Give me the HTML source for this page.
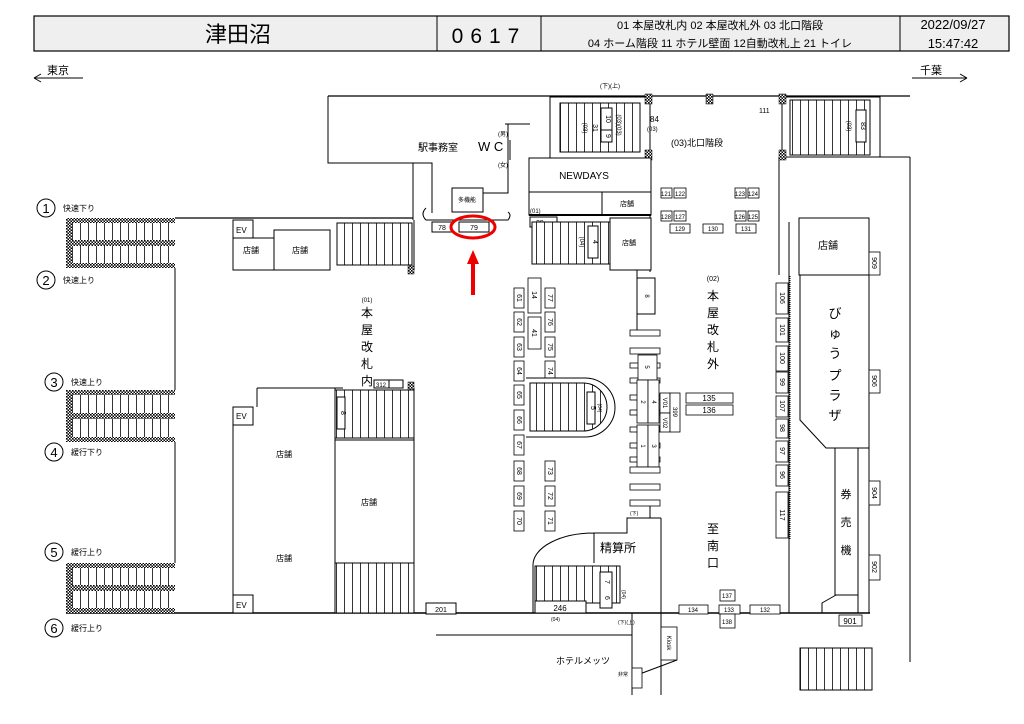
<!DOCTYPE html>
<html><head><meta charset="utf-8"><style>
html,body{margin:0;padding:0;background:#fff;}
svg{display:block;}
text{font-family:"Liberation Sans","Noto Sans CJK JP",sans-serif;fill:#000;}
</style></head><body>
<svg width="1024" height="724" viewBox="0 0 1024 724" xmlns="http://www.w3.org/2000/svg">
<defs>
<pattern id="st" width="8" height="10" patternUnits="userSpaceOnUse"><rect width="8" height="10" fill="#fff"/><line x1="0.5" y1="0" x2="0.5" y2="10" stroke="#000" stroke-width="0.8"/></pattern>
<pattern id="sth" width="10" height="8" patternUnits="userSpaceOnUse"><rect width="10" height="8" fill="#fff"/><line x1="0" y1="0.5" x2="10" y2="0.5" stroke="#000" stroke-width="0.8"/></pattern>
<pattern id="hx" width="3" height="3" patternUnits="userSpaceOnUse"><rect width="3" height="3" fill="#fff"/><rect width="1.6" height="1.6" fill="#000"/><rect x="1.5" y="1.5" width="1.5" height="1.5" fill="#000"/></pattern>
</defs>
<!-- header -->
<rect x="34" y="16" width="975" height="35" fill="#efefef" stroke="#000" stroke-width="1.2"/>
<line x1="437" y1="16" x2="437" y2="51" stroke="#000"/>
<line x1="541" y1="16" x2="541" y2="51" stroke="#000"/>
<line x1="900" y1="16" x2="900" y2="51" stroke="#000"/>
<text x="238" y="42" font-size="22" text-anchor="middle">津田沼</text>
<text x="489" y="43" font-size="21" text-anchor="middle" letter-spacing="7">0617</text>
<text x="720" y="29" font-size="11" text-anchor="middle">01 本屋改札内  02 本屋改札外  03 北口階段</text>
<text x="720" y="47" font-size="11" text-anchor="middle">04 ホーム階段  11 ホテル壁面  12自動改札上  21 トイレ</text>
<text x="953" y="29" font-size="13" text-anchor="middle">2022/09/27</text>
<text x="953" y="48" font-size="13" text-anchor="middle">15:47:42</text>
<!-- direction -->
<text x="47" y="74" font-size="11">東京</text>
<path d="M34,78 H83 M34,78 l7,-4 M34,78 l7,4" stroke="#000" fill="none"/>
<text x="920" y="74" font-size="11">千葉</text>
<path d="M912,78 H967 M967,78 l-7,-4 M967,78 l-7,4" stroke="#000" fill="none"/>

<g fill="none" stroke="#000" stroke-width="1">
<!-- walls -->
<path d="M328,96 H910" stroke-width="1.3"/>
<path d="M328,96 V163 H432 V213"/>
<path d="M413,163 V220"/>
<path d="M910,157 V662"/>
<path d="M880,157 H910"/>
<path d="M175,218 H413" stroke-width="1.3"/>
<path d="M175,268 V390 M175,442 V563"/>
<path d="M66,613 H870" stroke-width="1.6"/>
<path d="M505,124 H530 M508,124 V193 H483 M510,140 V160"/>
<path d="M426,208 q-6,6 0,12 H508 q4,-5 0,-8"/>
<path d="M650,96 V272"/>
<path d="M779,157 V275 M789,222 V613"/>
<path d="M869,222 V613"/>
<path d="M637,265 V330 M650,506 V518"/>
<path d="M257,388 H343 M257,388 V407"/>
<path d="M233,407 V613 M335,388 V613 M414,388 V613 M414,220 V270"/>
<path d="M661,518 V695 M661,518 H627 V533 H594 V563 M594,533 A61,32 0 0 0 533,565 V613"/>
<path d="M632,613 V695 M436,635 H632"/>
<path d="M677,660 L637,675"/>
<path d="M822,613 V603 L836,595 M858,595 V613"/>
</g>

<!-- top middle stair -->
<rect x="550" y="97" width="100" height="61" fill="#fff" stroke="#000"/>
<rect x="560" y="103" width="80" height="49" fill="url(#st)" stroke="#000"/>
<rect x="601" y="108" width="11" height="22" fill="#fff" stroke="#000"/><text transform="translate(606,119) rotate(90)" font-size="7" text-anchor="middle">10</text>
<rect x="601" y="130" width="11" height="12" fill="#fff" stroke="#000"/><text transform="translate(606,136) rotate(90)" font-size="7" text-anchor="middle">9</text>
<text transform="translate(593,128) rotate(90)" font-size="7" text-anchor="middle">31</text>
<text transform="translate(583,128) rotate(90)" font-size="6" text-anchor="middle">(03)</text>
<text transform="translate(617,125) rotate(90)" font-size="6" text-anchor="middle">(03)(03)</text>
<text x="650" y="122" font-size="8">84</text><text x="647" y="131" font-size="6">(03)</text>
<text x="600" y="88" font-size="6">(下)(上)</text>
<!-- top right stair -->
<rect x="782" y="97" width="98" height="60" fill="#fff" stroke="#000"/>
<rect x="790" y="100" width="80" height="55" fill="url(#st)" stroke="#000"/>
<rect x="856" y="110" width="10" height="32" fill="#fff" stroke="#000"/><text transform="translate(861,126) rotate(90)" font-size="7" text-anchor="middle">83</text>
<text transform="translate(847,126) rotate(90)" font-size="6" text-anchor="middle">(03)</text>
<text x="759" y="113" font-size="7">111</text>
<g fill="url(#hx)" stroke="#000" stroke-width="0.5">
<rect x="645" y="94" width="7" height="10"/><rect x="706" y="94" width="7" height="10"/><rect x="779" y="94" width="7" height="10"/>
<rect x="645" y="150" width="7" height="10"/><rect x="779" y="150" width="7" height="10"/>
<rect x="408" y="266" width="6" height="8"/><rect x="408" y="382" width="6" height="8"/>
</g>
<text x="671" y="146" font-size="9">(03)北口階段</text>

<!-- office -->
<text x="418" y="151" font-size="10">駅事務室</text>
<text x="478" y="151" font-size="13">W C</text>
<text x="498" y="136" font-size="6">(男)</text><text x="498" y="167" font-size="6">(女)</text>
<rect x="452" y="188" width="31" height="24" fill="#fff" stroke="#000"/><text x="467" y="202" font-size="6" text-anchor="middle">多機能</text>
<rect x="432" y="222" width="20" height="10" fill="#fff" stroke="#000"/><text x="442" y="230" font-size="7" text-anchor="middle">78</text>
<rect x="459" y="222" width="30" height="10" fill="#fff" stroke="#000"/><text x="474" y="230" font-size="7" text-anchor="middle">79</text>
<ellipse cx="473" cy="227" rx="22" ry="11" fill="none" stroke="#e00" stroke-width="3"/>
<path d="M473,295 V262" stroke="#e00" stroke-width="4"/><path d="M467,264 L473,250 L479,264 Z" fill="#e00"/>

<!-- NEWDAYS -->
<rect x="529" y="158" width="122" height="34" fill="#fff" stroke="#000"/>
<text x="584" y="179" font-size="10" text-anchor="middle">NEWDAYS</text>
<rect x="529" y="192" width="122" height="23" fill="#fff" stroke="#000"/>
<line x1="602" y1="192" x2="602" y2="215" stroke="#000"/>
<text x="620" y="206" font-size="7">店舗</text>
<line x1="529" y1="215" x2="651" y2="215" stroke="#000" stroke-width="2"/>
<text x="530" y="213" font-size="6">(01)</text>
<rect x="530" y="217" width="27" height="10" fill="#fff" stroke="#000"/><text x="536" y="225" font-size="7">29</text>
<rect x="532" y="222" width="78" height="42" fill="url(#st)" stroke="#000"/>
<rect x="588" y="226" width="10" height="32" fill="#fff" stroke="#000"/><text transform="translate(593,242) rotate(90)" font-size="7" text-anchor="middle">4</text>
<text transform="translate(580,242) rotate(90)" font-size="6" text-anchor="middle">(04)</text>
<rect x="610" y="218" width="41" height="52" fill="#fff" stroke="#000"/><text x="622" y="245" font-size="7">店舗</text>

<!-- 12x boxes -->
<g fill="#fff" stroke="#000" stroke-width="0.8">
<rect x="661" y="188" width="11" height="10"/><rect x="674" y="188" width="12" height="10"/>
<rect x="735" y="188" width="11" height="10"/><rect x="748" y="188" width="11" height="10"/>
<rect x="661" y="211" width="11" height="10"/><rect x="674" y="211" width="12" height="10"/>
<rect x="735" y="211" width="11" height="10"/><rect x="748" y="211" width="11" height="10"/>
<rect x="670" y="224" width="20" height="9"/><rect x="703" y="224" width="20" height="9"/><rect x="736" y="224" width="20" height="9"/>
</g>
<g font-size="6" text-anchor="middle">
<text x="666" y="196">121</text><text x="680" y="196">122</text><text x="740" y="196">123</text><text x="753" y="196">124</text>
<text x="666" y="219">128</text><text x="680" y="219">127</text><text x="740" y="219">126</text><text x="753" y="219">125</text>
<text x="680" y="231">129</text><text x="713" y="231">130</text><text x="746" y="231">131</text>
</g>

<!-- left platforms -->
<g>
<rect x="66" y="218" width="109" height="50" fill="url(#st)"/>
<rect x="66" y="218" width="109" height="5" fill="url(#hx)"/><rect x="66" y="240" width="109" height="6" fill="url(#hx)"/><rect x="66" y="263" width="109" height="5" fill="url(#hx)"/><rect x="66" y="218" width="6" height="50" fill="url(#hx)"/>
<rect x="66" y="390" width="109" height="52" fill="url(#st)"/>
<rect x="66" y="390" width="109" height="5" fill="url(#hx)"/><rect x="66" y="413" width="109" height="6" fill="url(#hx)"/><rect x="66" y="437" width="109" height="5" fill="url(#hx)"/><rect x="66" y="390" width="6" height="52" fill="url(#hx)"/>
<rect x="66" y="563" width="109" height="50" fill="url(#st)"/>
<rect x="66" y="563" width="109" height="5" fill="url(#hx)"/><rect x="66" y="585" width="109" height="6" fill="url(#hx)"/><rect x="66" y="608" width="109" height="5" fill="url(#hx)"/><rect x="66" y="563" width="6" height="50" fill="url(#hx)"/>
</g>
<g fill="none" stroke="#000"><circle cx="46" cy="208" r="9"/><circle cx="46" cy="280" r="9"/><circle cx="54" cy="382" r="9"/><circle cx="54" cy="452" r="9"/><circle cx="54" cy="552" r="9"/><circle cx="54" cy="628" r="9"/></g>
<g font-size="13" text-anchor="middle"><text x="46" y="213">1</text><text x="46" y="285">2</text><text x="54" y="387">3</text><text x="54" y="457">4</text><text x="54" y="557">5</text><text x="54" y="633">6</text></g>
<g font-size="8"><text x="63" y="211">快速下り</text><text x="63" y="283">快速上り</text><text x="71" y="385">快速上り</text><text x="71" y="455">緩行下り</text><text x="71" y="555">緩行上り</text><text x="71" y="631">緩行上り</text></g>

<!-- upper left corridor -->
<rect x="233" y="220" width="20" height="18" fill="#fff" stroke="#000"/><text x="236" y="233" font-size="8">EV</text>
<rect x="233" y="238" width="41" height="32" fill="#fff" stroke="#000"/><text x="243" y="253" font-size="8">店舗</text>
<rect x="274" y="230" width="56" height="40" fill="#fff" stroke="#000"/><text x="292" y="253" font-size="8">店舗</text>
<rect x="337" y="223" width="75" height="42" fill="url(#st)" stroke="#000"/>
<text x="367" y="302" font-size="6" text-anchor="middle">(01)</text>
<g font-size="12" text-anchor="middle"><text x="367" y="317">本</text><text x="367" y="334">屋</text><text x="367" y="351">改</text><text x="367" y="368">札</text><text x="367" y="385">内</text></g>

<!-- lower left -->
<rect x="374" y="380" width="15" height="8" fill="#fff" stroke="#000"/><text x="381" y="387" font-size="6" text-anchor="middle">312</text>
<rect x="389" y="380" width="14" height="8" fill="#fff" stroke="#000"/>
<rect x="233" y="407" width="20" height="18" fill="#fff" stroke="#000"/><text x="236" y="419" font-size="8">EV</text>
<rect x="233" y="595" width="20" height="18" fill="#fff" stroke="#000"/><text x="236" y="608" font-size="8">EV</text>
<rect x="335" y="390" width="79" height="48" fill="url(#st)" stroke="#000"/>
<rect x="337" y="397" width="8" height="32" fill="#fff" stroke="#000"/><text transform="translate(341,413) rotate(90)" font-size="7" text-anchor="middle">8</text>
<line x1="335" y1="440" x2="414" y2="440" stroke="#000"/>
<rect x="335" y="563" width="79" height="50" fill="url(#st)" stroke="#000"/>
<text x="276" y="457" font-size="8">店舗</text><text x="361" y="505" font-size="8">店舗</text><text x="276" y="561" font-size="8">店舗</text>
<rect x="426" y="603" width="30" height="11" fill="#fff" stroke="#000"/><text x="441" y="612" font-size="7" text-anchor="middle">201</text>

<!-- center numbered boxes -->
<g fill="#fff" stroke="#000" stroke-width="0.8">
<rect x="514" y="288" width="10" height="20"/><rect x="514" y="312" width="10" height="20"/><rect x="514" y="337" width="10" height="20"/><rect x="514" y="361" width="10" height="20"/><rect x="514" y="385" width="10" height="20"/><rect x="514" y="410" width="10" height="20"/><rect x="514" y="435" width="10" height="20"/><rect x="514" y="461" width="10" height="20"/><rect x="514" y="486" width="10" height="20"/><rect x="514" y="511" width="10" height="20"/>
<rect x="545" y="288" width="10" height="20"/><rect x="545" y="312" width="10" height="20"/><rect x="545" y="337" width="10" height="20"/><rect x="545" y="361" width="10" height="20"/><rect x="545" y="461" width="10" height="20"/><rect x="545" y="486" width="10" height="20"/><rect x="545" y="511" width="10" height="20"/>
<rect x="528" y="278" width="13" height="35"/><rect x="528" y="317" width="13" height="32"/>
</g>
<g font-size="7" text-anchor="middle">
<text transform="translate(517,298) rotate(90)">61</text><text transform="translate(517,322) rotate(90)">62</text><text transform="translate(517,347) rotate(90)">63</text><text transform="translate(517,371) rotate(90)">64</text><text transform="translate(517,395) rotate(90)">65</text><text transform="translate(517,420) rotate(90)">66</text><text transform="translate(517,445) rotate(90)">67</text><text transform="translate(517,471) rotate(90)">68</text><text transform="translate(517,496) rotate(90)">69</text><text transform="translate(517,521) rotate(90)">70</text>
<text transform="translate(548,298) rotate(90)">77</text><text transform="translate(548,322) rotate(90)">76</text><text transform="translate(548,347) rotate(90)">75</text><text transform="translate(548,371) rotate(90)">74</text><text transform="translate(548,471) rotate(90)">73</text><text transform="translate(548,496) rotate(90)">72</text><text transform="translate(548,521) rotate(90)">71</text>
<text transform="translate(532,295) rotate(90)">14</text><text transform="translate(532,333) rotate(90)">41</text>
</g>
<path d="M526,378 H585 A30,29.5 0 0 1 585,437 H526" fill="#fff" stroke="#000"/>
<path d="M530,383 H583 A24,24 0 0 1 583,431 H530 Z" fill="url(#st)" stroke="#000"/>
<rect x="587" y="392" width="8" height="32" fill="#fff" stroke="#000"/><text transform="translate(591,408) rotate(90)" font-size="7" text-anchor="middle">5</text>
<text transform="translate(598,408) rotate(90)" font-size="5" text-anchor="middle">(04)</text>

<!-- gates -->
<rect x="637" y="278" width="18" height="36" fill="#fff" stroke="#000"/><text transform="translate(645,296) rotate(90)" font-size="6" text-anchor="middle">8</text>
<g fill="#fff" stroke="#000" stroke-width="0.8">
<rect x="630" y="330" width="30" height="6"/><rect x="630" y="348" width="30" height="6"/>
<rect x="630" y="363" width="30" height="5"/><rect x="630" y="378" width="30" height="5"/><rect x="630" y="395" width="30" height="5"/><rect x="630" y="410" width="30" height="5"/><rect x="630" y="427" width="30" height="5"/><rect x="630" y="443" width="30" height="5"/><rect x="630" y="457" width="30" height="5"/>
<rect x="638" y="355" width="19" height="25"/>
<rect x="637" y="380" width="11" height="43"/><rect x="648" y="380" width="11" height="43"/>
<rect x="637" y="425" width="11" height="42"/><rect x="648" y="425" width="11" height="42"/>
<rect x="630" y="467" width="30" height="6"/><rect x="630" y="484" width="30" height="6"/><rect x="630" y="500" width="30" height="6"/>
<rect x="660" y="393" width="10" height="20"/><rect x="660" y="413" width="10" height="19"/><rect x="670" y="393" width="10" height="39"/>
<rect x="686" y="393" width="47" height="10"/><rect x="686" y="405" width="47" height="10"/>
</g>
<g font-size="6" text-anchor="middle">
<text transform="translate(645,367) rotate(90)">5</text><text transform="translate(641,402) rotate(90)">2</text><text transform="translate(652,402) rotate(90)">4</text><text transform="translate(641,446) rotate(90)">1</text><text transform="translate(652,446) rotate(90)">3</text>
<text transform="translate(663,403) rotate(90)">V01</text><text transform="translate(663,423) rotate(90)">V02</text><text transform="translate(673,412) rotate(90)">399</text>
</g>
<text x="709" y="401" font-size="8" text-anchor="middle">135</text><text x="709" y="413" font-size="8" text-anchor="middle">136</text>
<text x="713" y="281" font-size="7" text-anchor="middle">(02)</text>
<g font-size="12" text-anchor="middle"><text x="713" y="300">本</text><text x="713" y="317">屋</text><text x="713" y="334">改</text><text x="713" y="351">札</text><text x="713" y="368">外</text></g>
<g font-size="12" text-anchor="middle"><text x="713" y="533">至</text><text x="713" y="550">南</text><text x="713" y="567">口</text></g>

<!-- right column numbers -->
<g fill="#fff" stroke="#000" stroke-width="0.8">
<rect x="776" y="283" width="12" height="31"/><rect x="776" y="318" width="12" height="24"/><rect x="776" y="346" width="12" height="25"/><rect x="776" y="372" width="12" height="21"/><rect x="776" y="396" width="12" height="21"/><rect x="776" y="419" width="12" height="19"/><rect x="776" y="441" width="12" height="21"/><rect x="776" y="465" width="12" height="21"/><rect x="776" y="492" width="12" height="46"/>
</g>
<g font-size="7" text-anchor="middle">
<text transform="translate(780,298) rotate(90)">106</text><text transform="translate(780,330) rotate(90)">101</text><text transform="translate(780,358) rotate(90)">100</text><text transform="translate(780,382) rotate(90)">99</text><text transform="translate(780,406) rotate(90)">107</text><text transform="translate(780,428) rotate(90)">98</text><text transform="translate(780,451) rotate(90)">97</text><text transform="translate(780,475) rotate(90)">96</text><text transform="translate(780,515) rotate(90)">117</text>
</g>
<line x1="790" y1="276" x2="790" y2="540" stroke="#000" stroke-dasharray="1,1"/>
<rect x="799" y="218" width="70" height="57" fill="#fff" stroke="#000"/><text x="818" y="249" font-size="10">店舗</text>
<path d="M800,275 H869 V448 H826 L800,420 Z" fill="#fff" stroke="#000"/>
<g font-size="13" text-anchor="middle"><text x="835" y="318">び</text><text x="835" y="338">ゅ</text><text x="835" y="358">う</text><text x="835" y="380">プ</text><text x="835" y="400">ラ</text><text x="835" y="420">ザ</text></g>
<rect x="835" y="448" width="23" height="147" fill="#fff" stroke="#000"/>
<g font-size="11" text-anchor="middle"><text x="846" y="498">券</text><text x="846" y="526">売</text><text x="846" y="554">機</text></g>
<g fill="#fff" stroke="#000" stroke-width="0.8"><rect x="869" y="252" width="11" height="23"/><rect x="869" y="370" width="11" height="23"/><rect x="869" y="481" width="11" height="24"/><rect x="869" y="555" width="11" height="25"/>
<rect x="839" y="615" width="23" height="11"/></g>
<g font-size="7" text-anchor="middle"><text transform="translate(872,263) rotate(90)">909</text><text transform="translate(872,381) rotate(90)">906</text><text transform="translate(872,493) rotate(90)">904</text><text transform="translate(872,567) rotate(90)">902</text></g>
<text x="850" y="624" font-size="8" text-anchor="middle">901</text>

<!-- 精算所 -->
<text x="600" y="552" font-size="12">精算所</text>
<rect x="535" y="566" width="85" height="37" fill="url(#st)" stroke="#000"/>
<rect x="600" y="572" width="12" height="36" fill="#fff" stroke="#000"/><text transform="translate(605,582) rotate(90)" font-size="7" text-anchor="middle">7</text><text transform="translate(605,598) rotate(90)" font-size="7" text-anchor="middle">6</text>
<rect x="535" y="601" width="51" height="12" fill="#fff" stroke="#000"/><text x="560" y="611" font-size="8" text-anchor="middle">246</text>
<text x="551" y="621" font-size="5">(04)</text>
<text transform="translate(622,590) rotate(90)" font-size="5">(04)</text>

<!-- bottom -->
<g fill="#fff" stroke="#000" stroke-width="0.8">
<rect x="679" y="605" width="29" height="9"/><rect x="719" y="605" width="21" height="9"/><rect x="750" y="605" width="30" height="9"/>
<rect x="720" y="590" width="15" height="11"/><rect x="720" y="614" width="15" height="14"/>
<rect x="661" y="627" width="16" height="33"/><rect x="632" y="668" width="10" height="20"/>
</g>
<g font-size="6" text-anchor="middle"><text x="693" y="612">134</text><text x="729" y="612">133</text><text x="765" y="612">132</text><text x="727" y="598">137</text><text x="727" y="624">138</text></g>
<text transform="translate(667,643) rotate(90)" font-size="6" text-anchor="middle">Kiosk</text>
<text x="583" y="664" font-size="9" text-anchor="middle">ホテルメッツ</text>
<text x="618" y="676" font-size="5">非常</text>
<rect x="800" y="648" width="72" height="42" fill="url(#st)" stroke="#000"/>
<text x="618" y="624" font-size="5">(下)(上)</text>
<text x="630" y="515" font-size="5">(下)</text>
</svg>
</body></html>
